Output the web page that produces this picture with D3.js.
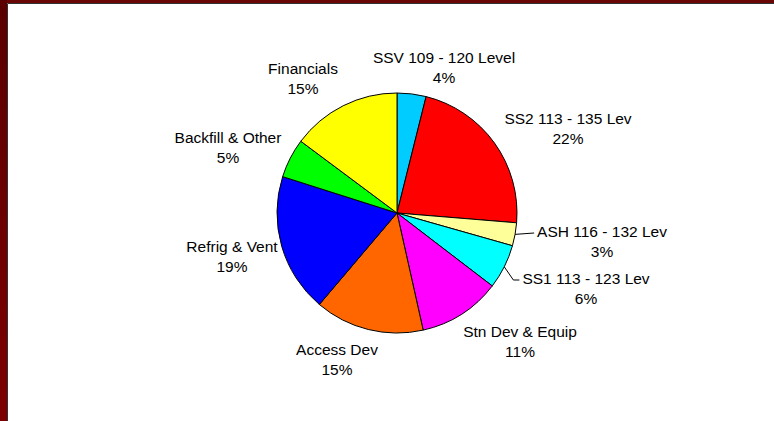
<!DOCTYPE html>
<html>
<meta charset="utf-8">
<script src="https://cdn.jsdelivr.net/npm/d3@7"></script>
<style>
body{
  margin: 0;
  background: white;
}
.slice{
  stroke: black;
  stroke-width: 1;
}
.lbl{
  font-family: "Liberation Sans", Arial, sans-serif;
  font-size: 15.5px;
  fill: black;
}
.leader{
  stroke: black;
  stroke-width: 1;
  fill: none;
}
</style>
<body>
<div id="chartDiv"></div>
<script>
// slice data, clockwise from 12 o'clock
var categories = ["SSV 109 - 120 Level", "SS2 113 - 135 Lev", "ASH 116 - 132 Lev", "SS1 113 - 123 Lev",
                  "Stn Dev & Equip", "Access Dev", "Refrig & Vent", "Backfill & Other", "Financials"];
var shares = [3.9, 22.4, 3.1, 6.0, 11.1, 14.7, 18.7, 5.3, 14.8];
var colours = ["#00CCFF", "#FF0000", "#FFFF99", "#00FFFF", "#FF00FF", "#FF6600", "#0000FF", "#00FF00", "#FFFF00"];

// label block centres, relative to the pie centre (layout only)
var labelOffsets = [[47,-150],[171,-89],[205,24],[189,71],[123,124],[-60,142],[-165,39],[-169,-70],[-94,-139]];
var leaderSlices = [2,3];

var width = 774, height = 421;
var cx = 397, cy = 213, radius = 120;

var svg = d3.select("#chartDiv").append("svg").attr("width",width).attr("height",height);

// frame
var defs = svg.append("defs");
var grad = defs.append("linearGradient").attr("id","frameGrad").attr("x1",0).attr("y1",0).attr("x2",0).attr("y2",1);
grad.append("stop").attr("offset","0%").attr("stop-color","#5a0000");
grad.append("stop").attr("offset","100%").attr("stop-color","#7d0000");
svg.append("rect").attr("x",0).attr("y",0).attr("width",width).attr("height",3).attr("fill","#6a0606");
svg.append("rect").attr("x",0).attr("y",0).attr("width",7).attr("height",height).attr("fill","url(#frameGrad)");
svg.append("line").attr("x1",7.5).attr("y1",3.5).attr("x2",width).attr("y2",3.5).attr("stroke","#333").attr("stroke-width",1);
svg.append("line").attr("x1",7.5).attr("y1",3.5).attr("x2",7.5).attr("y2",height).attr("stroke","#333").attr("stroke-width",1);

var data = categories.map(function(c,i){ return {name:c, value:shares[i], col:colours[i], idx:i}; });
var total = d3.sum(shares);

var pie = d3.pie().sort(null).value(function(d){return d.value});
var arc = d3.arc().innerRadius(0).outerRadius(radius);
var arcs = pie(data);

var g = svg.append("g").attr("transform","translate(" + cx + "," + cy + ")");

g.selectAll(".slice").data(arcs).enter()
  .append("path")
  .attr("class","slice")
  .attr("d",arc)
  .style("fill",function(d){return d.data.col});

// leader lines for the thin slices on the right
leaderSlices.forEach(function(i){
  var a = arcs[i];
  var mid = (a.startAngle + a.endAngle)/2;
  var p0 = [radius*Math.sin(mid), -radius*Math.cos(mid)];
  var off = labelOffsets[i];
  var lw = textWidth(a.data.name);
  var tx = off[0] - lw/2 - 3;
  var ty = off[1] - 4;
  var pts;
  if (i==2){
    pts = [p0, [tx, ty]];
  } else {
    pts = [p0, [tx-6, ty], [tx, ty]];
  }
  g.append("path").attr("class","leader").attr("d", d3.line()(pts));
});

var labels = g.selectAll(".lblG").data(arcs).enter()
  .append("text")
  .attr("class","lbl")
  .attr("text-anchor","middle")
  .attr("transform",function(d,i){ return "translate(" + labelOffsets[i][0] + "," + labelOffsets[i][1] + ")"; });

labels.append("tspan").attr("x",0).attr("y",-0.5).text(function(d){return d.data.name});
labels.append("tspan").attr("x",0).attr("y",19.5).text(function(d){return Math.round(d.data.value/total*100) + "%"});

function textWidth(s){
  var t = svg.append("text").attr("class","lbl").text(s);
  var w = t.node().getComputedTextLength();
  t.remove();
  return w;
}
</script>
</body>
</html>
